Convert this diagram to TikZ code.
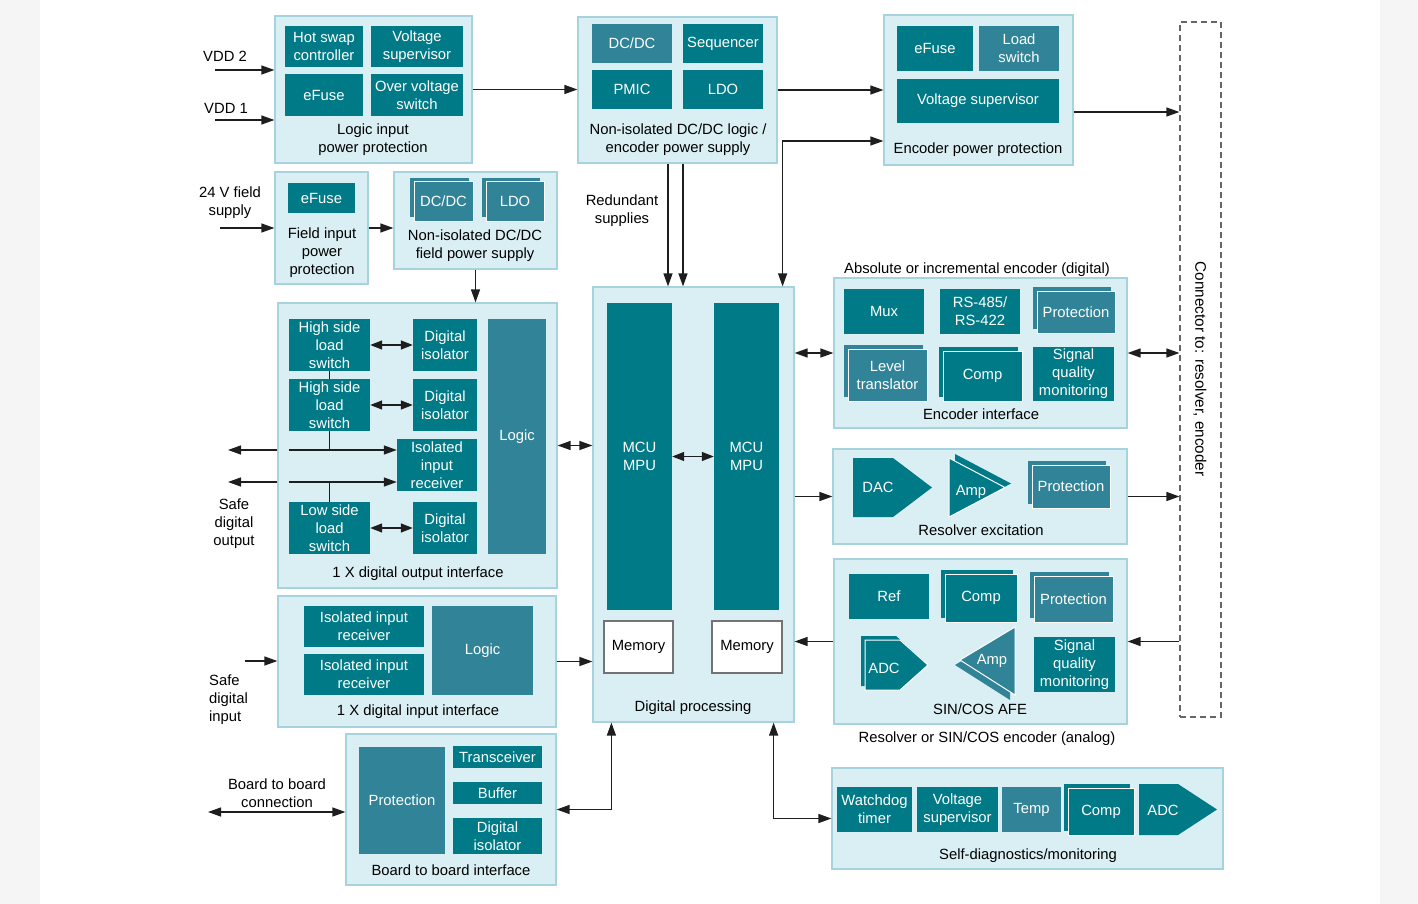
\documentclass[tikz,border=0pt]{standalone}
\usepackage{fontspec}
\setmainfont{Liberation Sans}
\usetikzlibrary{arrows.meta,shadows,calc}
\definecolor{TealClr}{RGB}{0,122,135}
\definecolor{SteelClr}{RGB}{49,131,151}
\definecolor{PanelClr}{RGB}{218,239,244}
\definecolor{EdgeClr}{RGB}{166,211,221}
\definecolor{MarginClr}{RGB}{245,245,245}
\definecolor{WireClr}{RGB}{30,30,30}
% box from its corners: [style]{name}{x1}{y1}{x2}{y2}{text}
\newcommand{\blk}[7][]{\node[#1,minimum width={#5-#3},minimum height={#6-#4}] (#2) at ({(#3+#5)/2},{(#4+#6)/2}) {#7};}

\begin{document}
\begin{tikzpicture}[x=1pt,y=-1pt,
  every node/.style={font=\fontsize{14.8}{18}\selectfont,align=center,inner sep=0pt},
  panel/.style={fill=PanelClr,draw=EdgeClr,line width=1.2pt},
  dk/.style={fill=TealClr,text=white},
  md/.style={fill=SteelClr,text=white},
  stk/.style={draw=white,line width=1pt,copy shadow={shadow xshift=-4pt,shadow yshift=4pt,fill=#1,draw=none}},
  mem/.style={fill=white,draw=black!55,line width=1.2pt},
  wire/.style={draw=WireClr,line width=1.3pt},
  arr/.style={wire,-{Triangle[length=13pt,width=9pt]}},
  darr/.style={wire,{Triangle[length=13pt,width=9pt]}-{Triangle[length=13pt,width=9pt]}},
  sarr/.style={wire,{Triangle[length=12pt,width=9pt]}-{Triangle[length=12pt,width=9pt]}}]

\fill[MarginClr] (0,0) rectangle (1418,904);
\fill[white] (40,0) rectangle (1380,904);
\useasboundingbox (0,0) rectangle (1418,904);

% panels
\blk[panel]{lip}{275}{16}{472}{163}{}
\blk[panel]{nis}{578}{17}{777}{163}{}
\blk[panel]{epp}{884}{15}{1073}{165}{}
\blk[draw=black!60,dash pattern=on 6pt off 4pt,line width=1.2pt]{cn}{1180}{22}{1221}{717}{}
\blk[panel]{fip}{275}{172}{368}{284}{}
\blk[panel]{nfs}{394}{172}{557}{269}{}
\blk[panel]{dout}{278}{303}{557}{588}{}
\blk[panel]{dp}{593}{287}{794}{722}{}
\blk[panel]{enc}{834}{278}{1127}{428}{}
\blk[panel]{rex}{833}{449}{1127}{544}{}
\blk[panel]{afe}{834}{559}{1127}{724}{}
\blk[panel]{din}{278}{596}{556}{727}{}
\blk[panel]{b2b}{346}{734}{556}{885}{}
\blk[panel]{sd}{832}{768}{1223}{869}{}

% logic input power protection
\blk[dk]{hsc}{285}{26}{363}{67}{Hot swap\\controller}
\blk[dk]{vsp}{371}{26}{463}{67}{Voltage\\supervisor}
\blk[dk]{efu}{285}{74}{363}{116}{eFuse}
\blk[dk]{ovs}{371}{74}{463}{116}{Over voltage\\switch}
\node (lipLbl) at (373,140) {Logic input\\power protection};

% logic / encoder supply
\blk[md]{dcdc}{592}{24}{672}{63}{DC/DC}
\blk[dk]{seq}{683}{24}{763}{63}{Sequencer}
\blk[dk]{pmic}{592}{70}{672}{109}{PMIC}
\blk[dk]{ldo}{683}{70}{763}{109}{LDO}
\node (nisLbl) at (678,140) {Non-isolated DC/DC logic /\\encoder power supply};

% encoder power protection
\blk[dk]{efuE}{897}{26}{973}{71}{eFuse}
\blk[md]{lsw}{979}{26}{1059}{71}{Load\\switch}
\blk[dk]{vsE}{897}{79}{1059}{123}{Voltage supervisor}
\node (eppLbl) at (978,150) {Encoder power protection};

\node[rotate=-90,font=\fontsize{15.3}{18}\selectfont] (cnLbl) at (1200,369) {Connector to: resolver, encoder};

% field supply
\blk[dk]{efuF}{288}{183}{355}{213}{eFuse}
\node (fipLbl) at (322,253) {Field input\\power\\protection};
\blk[md,stk=SteelClr]{dcdcF}{414}{182}{473}{221}{DC/DC}
\blk[md,stk=SteelClr]{ldoF}{486}{182}{544}{221}{LDO}
\node (nfsLbl) at (475,246) {Non-isolated DC/DC\\field power supply};

% digital output interface
\blk[dk]{hs1}{289}{319}{370}{371}{High side\\load\\switch}
\blk[dk]{di1}{413}{319}{477}{371}{Digital\\isolator}
\blk[dk]{hs2}{289}{379}{370}{431}{High side\\load\\switch}
\blk[dk]{di2}{413}{379}{477}{431}{Digital\\isolator}
\blk[dk]{iir}{397}{439}{477}{491}{Isolated\\input\\receiver}
\blk[dk]{ls}{289}{502}{370}{554}{Low side\\load\\switch}
\blk[dk]{di3}{413}{502}{477}{554}{Digital\\isolator}
\blk[md]{lgcO}{488}{319}{546}{554}{Logic}
\node (doutLbl) at (418,574) {1 X digital output interface};

% digital processing
\blk[dk]{mcu1}{607}{303}{672}{610}{MCU\\MPU}
\blk[dk]{mcu2}{714}{303}{779}{610}{MCU\\MPU}
\blk[mem]{mem1}{604}{621}{673}{673}{Memory}
\blk[mem]{mem2}{712}{621}{782}{673}{Memory}
\node (dpLbl) at (693,708) {Digital processing};

% encoder interface
\node (encTtl) at (977,270) {Absolute or incremental encoder (digital)};
\blk[dk]{mux}{844}{289}{924}{334}{Mux}
\blk[dk]{rs}{940}{289}{1020}{334}{RS-485/\\RS-422}
\blk[md,stk=SteelClr]{protE}{1037}{291}{1115}{333}{Protection}
\blk[md,stk=SteelClr]{lvl}{848}{349}{927}{401}{Level\\translator}
\blk[dk,stk=TealClr]{cmpE}{943}{351}{1022}{401}{Comp}
\blk[dk]{sqmE}{1033}{347}{1114}{401}{Signal\\quality\\monitoring}
\node (encLbl) at (981,414) {Encoder interface};

% resolver excitation
\fill[TealClr] (853,458) -- (893,458) -- (932,487.5) -- (893,517) -- (853,517) -- cycle;
\node[text=white] (dac) at (878,487) {DAC};
\fill[TealClr] (955,454) -- (1011,483.5) -- (955,513) -- cycle;
\filldraw[fill=TealClr,draw=white,line width=1pt] (949,458) -- (1005,487.5) -- (949,517) -- cycle;
\node[text=white] (ampX) at (971,492) {Amp};
\blk[md,stk=SteelClr]{protX}{1032}{465}{1110}{508}{Protection}
\node (rexLbl) at (981,530) {Resolver excitation};

% sin/cos afe
\blk[dk]{ref}{849}{574}{929}{619}{Ref}
\blk[dk,stk=TealClr]{cmpA}{945}{574}{1017}{622}{Comp}
\blk[md,stk=SteelClr]{protA}{1034}{576}{1113}{622}{Protection}
\fill[TealClr] (861,636) -- (896,636) -- (924,661) -- (896,686) -- (861,686) -- cycle;
\filldraw[fill=TealClr,draw=white,line width=1pt] (865,640) -- (900,640) -- (928,665) -- (900,690) -- (865,690) -- cycle;
\node[text=white] (adcA) at (884,668) {ADC};
\fill[SteelClr] (955,665) -- (1010,632) -- (1010,700) -- cycle;
\filldraw[fill=SteelClr,draw=white,line width=1pt] (960,660) -- (1015,627) -- (1015,695) -- cycle;
\node[text=white] (ampA) at (992,661) {Amp};
\blk[dk]{sqmA}{1034}{637}{1115}{692}{Signal\\quality\\monitoring}
\node (afeLbl) at (980,709) {SIN/COS AFE};
\node (afeTtl) at (987,739) {Resolver or SIN/COS encoder (analog)};

% digital input interface
\blk[dk]{iri1}{304}{606}{424}{647}{Isolated input\\receiver}
\blk[dk]{iri2}{304}{654}{424}{695}{Isolated input\\receiver}
\blk[md]{lgcI}{432}{606}{533}{695}{Logic}
\node (dinLbl) at (418,712) {1 X digital input interface};

% board to board interface
\blk[md]{protB}{359}{747}{445}{854}{Protection}
\blk[dk]{trx}{453}{746}{542}{768}{Transceiver}
\blk[dk]{buf}{453}{782}{542}{804}{Buffer}
\blk[dk]{diB}{453}{818}{542}{854}{Digital\\isolator}
\node (b2bLbl) at (451,870) {Board to board interface};

% self diagnostics
\blk[dk]{wdt}{837}{787}{912}{832}{Watchdog\\timer}
\blk[dk]{vsD}{917}{787}{998}{832}{Voltage\\supervisor}
\blk[md]{tmp}{1002}{787}{1061}{832}{Temp}
\blk[dk,stk=TealClr]{cmpD}{1068}{788}{1134}{835}{Comp}
\fill[TealClr] (1139,784) -- (1178,784) -- (1217,809.5) -- (1178,835) -- (1139,835) -- cycle;
\node[text=white] (adcD) at (1163,810) {ADC};
\node (sdLbl) at (1028,856) {Self-diagnostics/monitoring};

% outside labels
\node (vdd2Lbl) at (225,56) {VDD 2};
\node (vdd1Lbl) at (226,108) {VDD 1};
\node (fldLbl) at (230,203) {24 V field\\supply};
\node (rsLbl) at (622,211) {Redundant\\supplies};
\node (sdoLbl) at (234,524) {Safe\\digital\\output};
\node[align=left,anchor=west] (sdiLbl) at (209,700) {Safe\\digital\\input};
\node (bbcLbl) at (277,793) {Board to board\\connection};

% connectors
\coordinate (vdd2) at (215,70);
\coordinate (vdd1) at (215,120);
\coordinate (fld) at (220,228);
\coordinate (sdi) at (245,661);
\coordinate (bbc) at (208,812);
\coordinate (sdoa) at (228,450);
\coordinate (sdob) at (228,482);
\coordinate (rxa) at ([yshift=15pt]iir.west);
\coordinate (rxb) at ([yshift=-17pt]iir.west);

\draw[arr] (vdd2) -- (vdd2 -| lip.west);
\draw[arr] (vdd1) -- (vdd1 -| lip.west);
\draw[arr] (lip.east) -- (lip.east -| nis.west);
\draw[arr] (nis.east) -- (nis.east -| epp.west);
\draw[arr] ([yshift=-22pt]epp.east) -- ([yshift=-22pt]epp.east -| cn.west);
\draw[arr] (fld) -- (fld -| fip.west);
\draw[arr] (fip.east) -- (fip.east -| nfs.west);
\draw[arr] (nfs.south) -- (nfs.south |- dout.north);
\draw[arr] ([xshift=-9.5pt]nis.south) -- ([xshift=-9.5pt]nis.south |- dp.north);
\draw[arr] ([xshift=5.5pt]nis.south) -- ([xshift=5.5pt]nis.south |- dp.north);
\draw[darr] ([xshift=-12pt]dp.north east) |- ([yshift=-51pt]epp.west);
\draw[darr] (dout.east) -- (dout.east -| dp.west);
\draw[arr] (din.east) -- (din.east -| dp.west);
\draw[darr] ([xshift=19pt]dp.south west) |- (b2b.east);
\draw[darr] ([xshift=-21pt]dp.south east) |- (sd.west);
\draw[darr] (enc.west -| dp.east) -- (enc.west);
\draw[arr] (rex.west -| dp.east) -- (rex.west);
\draw[arr] (afe.west) -- (afe.west -| dp.east);
\draw[darr] (enc.east) -- (enc.east -| cn.west);
\draw[arr] (rex.east) -- (rex.east -| cn.west);
\draw[arr] (afe.east -| cn.west) -- (afe.east);
\draw[arr] (sdi) -- (sdi -| din.west);
\draw[darr] (bbc) -- (bbc -| b2b.west);
\draw[sarr] (mcu1.east) -- (mcu2.west);
\draw[sarr] (hs1.east) -- (di1.west);
\draw[sarr] (hs2.east) -- (di2.west);
\draw[sarr] (ls.east) -- (di3.west);
\draw[wire] (hs1.south) -- (hs2.north);
\draw[wire] (hs2.south) -- (hs2.south |- rxa);
\draw[wire] (ls.north) -- (ls.north |- rxb);
\draw[arr] (hs2.south west |- rxa) -- (rxa);
\draw[arr] (hs2.south west |- rxb) -- (rxb);
\draw[arr] (dout.west |- rxa) -- (sdoa);
\draw[arr] (dout.west |- rxb) -- (sdob);

\end{tikzpicture}
\end{document}
